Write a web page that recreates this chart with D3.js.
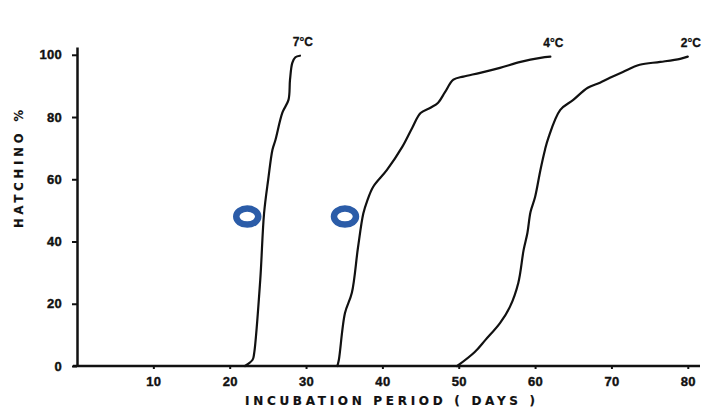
<!DOCTYPE html>
<html>
<head>
<meta charset="utf-8">
<script src="https://cdn.jsdelivr.net/npm/d3@7"></script>
<style>
  body { margin: 0; background: #fff; }
  svg { display: block; }
  text { font-weight: bold; fill: #111; }
</style>
</head>
<body>
<script>
// data: [day, hatching %]
var curve7 = [[22.0,0],[23.0,2],[23.2,4],[24.0,27.6],[24.5,49],[25.05,60],[25.6,69.5],[26.0,72.7],
              [26.9,81.4],[27.7,85.5],[27.9,92],[28.2,97.4],[28.6,99.2],[29.2,99.7]];
var curve4 = [[34.1,0],[34.3,2],[35.1,17],[36.0,23.5],[36.8,38],[37.5,49],[38.0,53],[38.8,57.6],
              [40.6,63],[42.6,70.4],[43.9,76.5],[45.0,81.3],[46.3,83],[47.3,84.6],[48.2,88],
              [49.3,92],[50.6,93],[52.8,94.2],[55.4,95.8],[58.1,97.7],[60.7,99],[62.0,99.4]];
var curve2 = [[49.8,0],[52.1,4.5],[53.5,8.4],[55.4,13.8],[56.7,19],[57.8,26.7],[58.5,37.3],
              [59.0,42.8],[59.4,49.5],[60.0,54.3],[60.7,63],[61.3,69.5],[61.7,73],[63.3,82.3],
              [65.0,85.5],[66.9,89.4],[68.5,91],[69.8,92.6],[71.5,94.5],[73.7,96.8],[76.4,97.7],
              [79.0,98.7],[80.0,99.4]];
var seriesNames = ["7\u00B0C", "4\u00B0C", "2\u00B0C"];
var markers = [[22.3,48],[35.1,48]];
var xTicks = [10,20,30,40,50,60,70,80];
var yTicks = [0,20,40,60,80,100];

var W = 706, H = 409;
var sans = "Liberation Sans, Arial, sans-serif";
var wide = "DejaVu Sans, sans-serif";
var svg = d3.select("body").append("svg").attr("width", W).attr("height", H);

var x = d3.scaleLinear().domain([0, 81.6]).range([77, 700]);
var y = d3.scaleLinear().domain([0, 102.5]).range([366, 47]);

// axes
var xAxis = svg.append("g").attr("transform", "translate(0," + y(0) + ")")
    .call(d3.axisBottom(x).tickValues(xTicks).tickSize(3).tickSizeOuter(0).tickPadding(8));
var yAxis = svg.append("g").attr("transform", "translate(" + x(0) + ",0)")
    .call(d3.axisLeft(y).tickValues(yTicks).tickSize(5).tickSizeOuter(0).tickPadding(10));

[xAxis, yAxis].forEach(function (g) {
  g.select(".domain").attr("stroke", "#111").attr("stroke-width", 2.5);
  g.selectAll(".tick line").attr("stroke", "#111").attr("stroke-width", 2);
  g.selectAll(".tick text").style("font-family", sans).style("font-size", "13px")
    .attr("letter-spacing", 0.3)
    .attr("fill", "#111").attr("stroke", "#111").attr("stroke-width", 0.4);
});
xAxis.select(".domain").attr("d", "M" + (x(0) - 4) + ",0H" + x(81.6));

// axis titles
svg.append("text")
  .attr("x", 245).attr("y", 405)
  .style("font-family", wide).style("font-size", "12px")
  .attr("textLength", 290).attr("lengthAdjust", "spacing")
  .attr("stroke", "#111").attr("stroke-width", 0.2)
  .text("INCUBATION PERIOD ( DAYS )");

svg.append("text")
  .attr("transform", "translate(23,228) rotate(-90)")
  .style("font-family", wide).style("font-size", "11.5px")
  .attr("textLength", 118).attr("lengthAdjust", "spacing")
  .attr("stroke", "#111").attr("stroke-width", 0.2)
  .text("HATCHINO %");

// curves
var line = d3.line()
    .x(function (d) { return x(d[0]); })
    .y(function (d) { return y(d[1]); })
    .curve(d3.curveCatmullRom.alpha(0.5));

var curves = [curve7, curve4, curve2];
curves.forEach(function (c, i) {
  svg.append("path")
    .attr("d", line(c))
    .attr("fill", "none")
    .attr("stroke", "#111")
    .attr("stroke-width", 2.2)
    .attr("stroke-linejoin", "round")
    .attr("stroke-linecap", "round");

  var last = c[c.length - 1];
  svg.append("text")
    .attr("x", x(last[0]) + 3)
    .attr("y", y(last[1]) - 10)
    .attr("text-anchor", "middle")
    .style("font-family", sans).style("font-size", "12px")
    .attr("stroke", "#111").attr("stroke-width", 0.3)
    .text(seriesNames[i]);
});

// blue ring markers
svg.selectAll("ellipse.ring")
  .data(markers)
  .enter().append("ellipse")
    .attr("class", "ring")
    .attr("cx", function (d) { return x(d[0]); })
    .attr("cy", function (d) { return y(d[1]); })
    .attr("rx", 11)
    .attr("ry", 8)
    .attr("fill", "none")
    .attr("stroke", "#2b5ca8")
    .attr("stroke-width", 6.5);
</script>
</body>
</html>
